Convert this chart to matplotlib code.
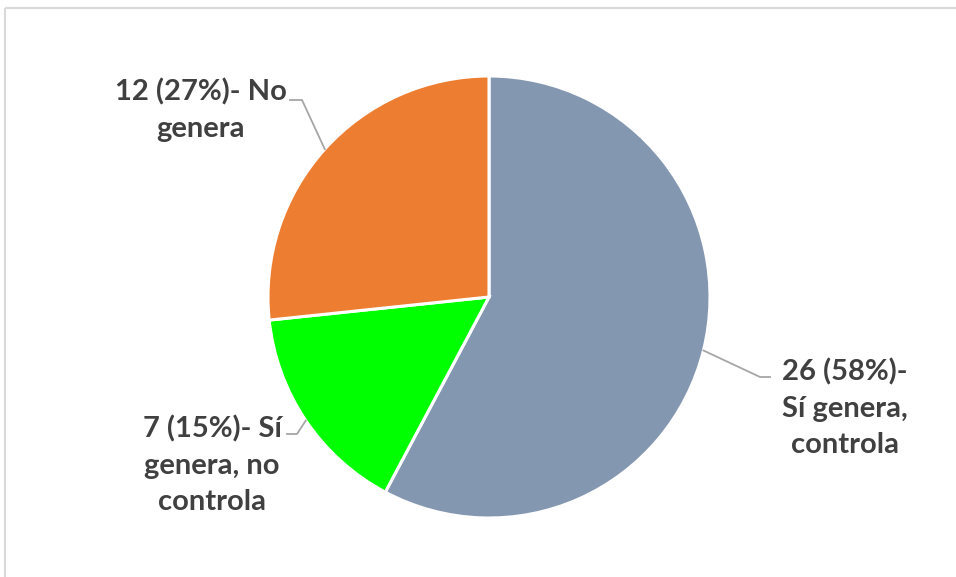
import matplotlib
matplotlib.use("Agg")
import matplotlib.pyplot as plt
import numpy as np

categories = ["Sí genera, controla", "Sí genera, no controla", "No genera"]
values = [26, 7, 12]
labels = ["26 (58%)-\nSí genera,\ncontrola", "7 (15%)- Sí\ngenera, no\ncontrola", "12 (27%)- No\ngenera"]
colors = ["#8497B0", "#00FF00", "#ED7D31"]

W, H = 956, 577
fig = plt.figure(figsize=(W / 100, H / 100), dpi=100)
ax = fig.add_axes([0, 0, 1, 1])
ax.set_xlim(0, W)
ax.set_ylim(0, H)
ax.set_aspect("equal")
ax.axis("off")

cx, cy, R = 489, H - 297, 221
wedges, _ = ax.pie(values, colors=colors, startangle=90, counterclock=False,
                   center=(cx, cy), radius=R, frame=True,
                   wedgeprops=dict(edgecolor="white", linewidth=2.2))
ax.set_xlim(0, W)
ax.set_ylim(0, H)
ax.axis("off")

# frame
ax.plot([5, W], [H - 8, H - 8], color="#D9D9D9", lw=1.5, solid_capstyle="butt")
ax.plot([5, 5], [H - 8, 0], color="#D9D9D9", lw=1.5, solid_capstyle="butt")

# label placement: (elbow, end, text center) in pixel coords from top
label_pos = [
    ((760, 377), (770, 377), (845, 408)),
    ((297, 434), (287, 434), (212, 465)),
    ((302, 100), (290, 100), (201, 110)),
]
for w, lab, (elb, end, tc) in zip(wedges, labels, label_pos):
    mid = np.deg2rad((w.theta1 + w.theta2) / 2)
    px, py = cx + R * np.cos(mid), cy + R * np.sin(mid)
    ax.plot([px, elb[0], end[0]], [py, H - elb[1], H - end[1]], color="#A6A6A6", lw=1.3)
    ax.text(tc[0], H - tc[1], lab, ha="center", va="center", fontsize=21,
            fontweight="bold", family="Lato", color="#404040", linespacing=1.48)

fig.savefig("out.png", dpi=100)
